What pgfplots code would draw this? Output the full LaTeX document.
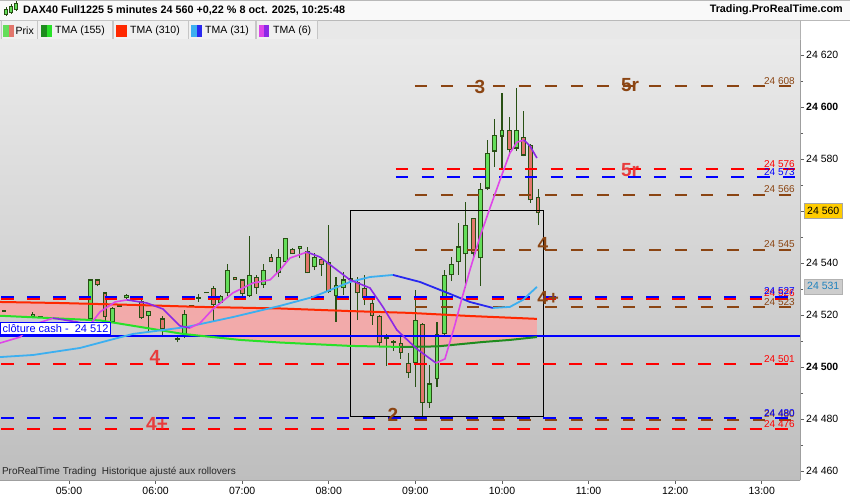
\documentclass[border=0pt]{standalone}
\usepackage{fontspec}
\setmainfont{Liberation Sans}
\usepackage{pgfplots}
\pgfplotsset{compat=1.18}

\definecolor{bgtop}{RGB}{234,234,234}
\definecolor{bgbot}{RGB}{190,190,190}
\definecolor{lvlbrown}{RGB}{139,69,19}
\definecolor{lvlred}{RGB}{255,0,0}
\definecolor{lvlblue}{RGB}{0,0,255}
\definecolor{candleup}{RGB}{100,222,90}
\definecolor{candledn}{RGB}{226,118,108}
\definecolor{candleedge}{RGB}{40,80,20}
\definecolor{tmaA}{RGB}{40,225,40}
\definecolor{tmaB}{RGB}{30,140,30}
\definecolor{tmaR}{RGB}{255,40,0}
\definecolor{tmaLB}{RGB}{60,175,240}
\definecolor{tmaDB}{RGB}{40,40,240}
\definecolor{tmaMag}{RGB}{222,70,232}
\definecolor{tmaPur}{RGB}{140,40,230}
\definecolor{fillpink}{RGB}{242,170,170}
\definecolor{labred}{RGB}{232,60,60}
\definecolor{tabbg}{RGB}{240,240,240}
\definecolor{rowbg}{RGB}{232,232,232}
\definecolor{pricebox}{RGB}{255,204,0}
\definecolor{lastbox}{RGB}{205,205,205}
\definecolor{lasttxt}{RGB}{30,130,190}

\begin{document}
\begin{tikzpicture}[font=\fontsize{10.5}{12}\selectfont]
\fill[white] (0,0) rectangle (850pt,500pt);

% header rows
\fill[white!95!gray] (0,480pt) rectangle (850pt,500pt);
\draw[gray!55] (0,499.6pt) -- (850pt,499.6pt);
\fill[rowbg] (0,460pt) rectangle (800pt,480pt);
\draw[gray!55] (0,480pt) -- (850pt,480pt);
\foreach \a/\b in {1/37,37.5/112.5,113/188,188.5/255.5,256/317}{
  \draw[gray!45, fill=tabbg] (\a pt,460.5pt) rectangle (\b pt,479.5pt);
}
\draw[gray!60] (800pt,460pt) -- (800pt,480pt);
\fill[candleup] (3pt,463pt) rectangle (8.5pt,475pt);
\fill[candledn] (8.5pt,463pt) rectangle (14pt,475pt);
\fill[tmaB] (41pt,463pt) rectangle (46.5pt,475pt);
\fill[tmaA] (46.5pt,463pt) rectangle (52pt,475pt);
\fill[tmaR] (116pt,463pt) rectangle (127pt,475pt);
\fill[tmaLB] (191pt,463pt) rectangle (196.5pt,475pt);
\fill[tmaDB] (196.5pt,463pt) rectangle (202pt,475pt);
\fill[tmaMag] (259pt,463pt) rectangle (264pt,475pt);
\fill[tmaPur] (264pt,463pt) rectangle (269pt,475pt);
\node[anchor=west, inner sep=0pt] at (15.5pt,469.5pt) {Prix};
\node[anchor=west, inner sep=0pt] at (55pt,469.5pt) {TMA (155)};
\node[anchor=west, inner sep=0pt] at (130pt,469.5pt) {TMA (310)};
\node[anchor=west, inner sep=0pt] at (205pt,469.5pt) {TMA (31)};
\node[anchor=west, inner sep=0pt] at (273pt,469.5pt) {TMA (6)};
\draw[candleedge, line width=0.8pt] (6pt,484pt) -- (6pt,493pt);
\fill[candleup, draw=candleedge, line width=0.5pt] (4.5pt,486pt) rectangle (7.5pt,491pt);
\draw[candleedge, line width=0.8pt] (11pt,486pt) -- (11pt,496pt);
\fill[candleup, draw=candleedge, line width=0.5pt] (9.5pt,488pt) rectangle (12.5pt,494pt);
\draw[candleedge, line width=0.8pt] (16pt,489pt) -- (16pt,499pt);
\fill[candleup, draw=candleedge, line width=0.5pt] (14.5pt,491pt) rectangle (17.5pt,497pt);
\node[anchor=west, inner sep=0pt, font=\fontsize{10.8}{12}\selectfont\bfseries] at (23pt,490pt)
  {DAX40 Full1225 5 minutes 24 560 +0,22 \% 8 oct. 2025, 10:25:48};
\node[anchor=east, inner sep=0pt, font=\fontsize{10.8}{12}\selectfont\bfseries] at (843pt,490pt)
  {Trading.ProRealTime.com};

\begin{axis}[
  at={(0pt,20pt)}, anchor=south west,
  width=800pt, height=440pt, scale only axis,
  xmin=252.2, xmax=806.5, ymin=24456.5, ymax=24625.8,
  axis x line*=bottom, axis y line*=right,
  axis line style={draw=gray!75, line width=0.8pt},
  axis background/.style={shade, top color=bgtop, bottom color=bgbot},
  xtick={300,360,420,480,540,600,660,720,780},
  xticklabels={05:00,06:00,07:00,08:00,09:00,10:00,11:00,12:00,13:00},
  ytick={24460,24480,24500,24520,24540,24560,24580,24600,24620},
  yticklabels={24 460,24 480,\textbf{24 500},24 520,24 540,24 560,24 580,\textbf{24 600},24 620},
  scaled y ticks=false, scaled x ticks=false,
  minor ytick={24470,24490,24510,24530,24550,24570,24590,24610},
  tick align=outside, major tick length=4pt, minor tick length=3pt,
  tick style={draw=gray!75!black, line width=0.7pt},
  yticklabel style={anchor=west, inner sep=1pt, xshift=1pt},
  xticklabel style={inner sep=1pt, yshift=-2pt},
  clip=false,
  unbounded coords=jump,
]
% envelope between TMA 310 (forward) and TMA 155 (backward)
\addplot[fill=fillpink, draw=none, forget plot] coordinates {
(252.2,24525.0) (293.8,24524.6) (349.2,24523.8) (390.8,24523.1) (446.2,24522.5)
(494.7,24521.5) (536.2,24520.8) (577.8,24519.6) (624.2,24518.5)
(624.2,24511.5) (605.5,24510.4) (586.8,24509.6) (555.0,24507.9) (529.3,24507.7)
(494.7,24508.1) (446.2,24509.4) (418.5,24510.4) (379.0,24512.7) (349.2,24515.4)
(321.5,24517.9) (286.8,24518.8) (252.2,24519.7)};

% candle wicks (low -> high), time in minutes since midnight
\addplot[candleedge, line width=1.1pt, forget plot] coordinates {
(255,24521.2)(255,24522.0)(255,nan) (275,24518.8)(275,24521.0)(275,nan)
(280,24519.1)(280,24519.6)(280,nan) (315,24518.0)(315,24534.0)(315,nan)
(320,24531.0)(320,24534.0)(320,nan) (325,24517.5)(325,24529.0)(325,nan)
(330,24517.0)(330,24523.0)(330,nan) (335,24523.3)(335,24523.8)(335,nan)
(340,24526.2)(340,24528.0)(340,nan) (350,24518.5)(350,24526.5)(350,nan)
(355,24513.6)(355,24521.5)(355,nan) (365,24512.0)(365,24519.5)(365,nan)
(375,24509.5)(375,24511.4)(375,nan) (380,24511.1)(380,24522.0)(380,nan)
(385,24523.4)(385,24523.9)(385,nan) (390,24525.0)(390,24528.0)(390,nan)
(395,24528.4)(395,24528.9)(395,nan) (400,24517.3)(400,24531.0)(400,nan)
(405,24524.4)(405,24527.5)(405,nan) (410,24527.3)(410,24539.6)(410,nan)
(415,24533.3)(415,24534.8)(415,nan) (420,24527.0)(420,24533.8)(420,nan)
(425,24527.0)(425,24550.4)(425,nan) (430,24528.1)(430,24535.4)(430,nan)
(435,24530.4)(435,24539.6)(435,nan) (440,24540.2)(440,24543.5)(440,nan)
(445,24534.6)(445,24545.4)(445,nan) (450,24540.2)(450,24549.8)(450,nan)
(455,24543.3)(455,24545.6)(455,nan) (460,24541.9)(460,24546.7)(460,nan)
(465,24536.0)(465,24546.2)(465,nan) (470,24537.3)(470,24543.8)(470,nan)
(475,24535.0)(475,24542.3)(475,nan) (480,24528.5)(480,24554.6)(480,nan)
(485,24517.3)(485,24534.6)(485,nan) (490,24527.7)(490,24536.5)(490,nan)
(495,24531.0)(495,24543.5)(495,nan) (500,24518.0)(500,24534.6)(500,nan)
(505,24523.8)(505,24535.4)(505,nan) (510,24516.2)(510,24526.5)(510,nan)
(515,24507.7)(515,24520.0)(515,nan) (520,24500.4)(520,24512.7)(520,nan)
(525,24506.2)(525,24510.4)(525,nan) (530,24503.1)(530,24511.5)(530,nan)
(535,24495.8)(535,24505.4)(535,nan) (540,24492.3)(540,24529.6)(540,nan)
(545,24480.8)(545,24517.0)(545,nan) (550,24484.2)(550,24500.8)(550,nan)
(555,24492.3)(555,24517.3)(555,nan) (560,24512.0)(560,24537.3)(560,nan)
(565,24533.0)(565,24542.3)(565,nan) (570,24535.4)(570,24555.4)(570,nan)
(575,24530.4)(575,24563.5)(575,nan) (580,24542.3)(580,24557.5)(580,nan)
(585,24531.2)(585,24570.8)(585,nan) (590,24568.0)(590,24587.3)(590,nan)
(595,24577.0)(595,24595.4)(595,nan) (600,24576.5)(600,24605.4)(600,nan)
(605,24581.5)(605,24596.2)(605,nan) (610,24583.0)(610,24607.3)(610,nan)
(615,24581.0)(615,24598.5)(615,nan) (620,24563.0)(620,24585.6)(620,nan)
(625,24554.6)(625,24568.5)(625,nan)};

% candle body outlines (min(open,close) -> max(open,close))
\addplot[candleedge, line width=4.8pt, forget plot] coordinates {
(255,24521.25)(255,24521.95)(255,nan) (275,24519.05)(275,24520.55)(275,nan)
(280,24519.05)(280,24519.65)(280,nan) (315,24518.35)(315,24533.65)(315,nan)
(320,24531.35)(320,24533.65)(320,nan) (325,24519.05)(325,24528.65)(325,nan)
(330,24517.15)(330,24522.85)(330,nan) (335,24523.25)(335,24523.85)(335,nan)
(340,24526.35)(340,24527.85)(340,nan) (350,24518.65)(350,24525.55)(350,nan)
(355,24519.45)(355,24521.45)(355,nan) (365,24514.45)(365,24518.65)(365,nan)
(375,24510.55)(375,24511.15)(375,nan) (380,24511.75)(380,24520.55)(380,nan)
(385,24523.35)(385,24523.95)(385,nan) (390,24526.25)(390,24526.85)(390,nan)
(395,24528.35)(395,24528.95)(395,nan) (400,24523.65)(400,24530.55)(400,nan)
(405,24524.45)(405,24527.45)(405,nan) (410,24528.35)(410,24537.45)(410,nan)
(415,24533.35)(415,24534.75)(415,nan) (420,24527.95)(420,24533.65)(420,nan)
(425,24527.15)(425,24535.55)(425,nan) (430,24530.25)(430,24534.75)(430,nan)
(435,24531.35)(435,24537.45)(435,nan) (440,24540.25)(440,24542.45)(440,nan)
(445,24536.05)(445,24542.45)(445,nan) (450,24540.25)(450,24549.75)(450,nan)
(455,24543.35)(455,24545.55)(455,nan) (460,24545.25)(460,24546.65)(460,nan)
(465,24536.05)(465,24544.75)(465,nan) (470,24538.35)(470,24542.45)(470,nan)
(475,24539.05)(475,24541.65)(475,nan) (480,24528.65)(480,24540.55)(480,nan)
(485,24527.15)(485,24531.65)(485,nan) (490,24530.25)(490,24533.65)(490,nan)
(495,24533.35)(495,24534.15)(495,nan) (500,24528.35)(500,24532.85)(500,nan)
(505,24526.35)(505,24530.55)(505,nan) (510,24519.45)(510,24524.75)(510,nan)
(515,24509.05)(515,24519.75)(515,nan) (520,24510.65)(520,24511.35)(520,nan)
(525,24509.25)(525,24509.95)(525,nan) (530,24505.25)(530,24509.35)(530,nan)
(535,24497.55)(535,24501.65)(535,nan) (540,24501.35)(540,24518.15)(540,nan)
(545,24486.05)(545,24516.65)(545,nan) (550,24486.05)(550,24493.65)(550,nan)
(555,24495.25)(555,24512.85)(555,nan) (560,24512.55)(560,24535.55)(560,nan)
(565,24535.25)(565,24539.75)(565,nan) (570,24540.25)(570,24546.35)(570,nan)
(575,24543.35)(575,24554.75)(575,nan) (580,24543.65)(580,24557.45)(580,nan)
(585,24541.75)(585,24568.65)(585,nan) (590,24568.65)(590,24582.45)(590,nan)
(595,24582.85)(595,24589.35)(595,nan) (600,24588.65)(600,24591.35)(600,nan)
(605,24583.35)(605,24591.35)(605,nan) (610,24584.05)(610,24591.35)(610,nan)
(615,24581.35)(615,24588.65)(615,nan) (620,24564.05)(620,24585.55)(620,nan)
(625,24559.05)(625,24565.55)(625,nan)};

% rising candle bodies (open -> close)
\addplot[candleup, line width=2.8pt, forget plot] coordinates {
(275,24519.5)(275,24520.1)(275,nan) (315,24518.8)(315,24533.2)(315,nan)
(330,24517.6)(330,24522.4)(330,nan) (340,24526.8)(340,24527.4)(340,nan)
(355,24519.9)(355,24521.0)(355,nan) (380,24512.2)(380,24520.1)(380,nan)
(405,24524.9)(405,24527.0)(405,nan) (410,24528.8)(410,24537.0)(410,nan)
(425,24527.6)(425,24535.1)(425,nan) (435,24531.8)(435,24537.0)(435,nan)
(445,24536.5)(445,24542.0)(445,nan) (450,24540.7)(450,24549.3)(450,nan)
(460,24545.7)(460,24546.2)(460,nan) (470,24538.8)(470,24542.0)(470,nan)
(485,24527.6)(485,24531.2)(485,nan) (490,24530.7)(490,24533.2)(490,nan)
(540,24501.8)(540,24517.7)(540,nan) (550,24486.5)(550,24493.2)(550,nan)
(555,24495.7)(555,24512.4)(555,nan) (560,24513.0)(560,24535.1)(560,nan)
(565,24535.7)(565,24539.3)(565,nan) (570,24540.7)(570,24545.9)(570,nan)
(575,24543.8)(575,24554.3)(575,nan) (585,24542.2)(585,24568.2)(585,nan)
(590,24569.1)(590,24582.0)(590,nan) (595,24583.3)(595,24588.9)(595,nan)
(600,24589.1)(600,24590.9)(600,nan) (610,24584.5)(610,24590.9)(610,nan)};

% falling candle bodies (close -> open)
\addplot[candledn, line width=2.8pt, forget plot] coordinates {
(320,24531.8)(320,24533.2)(320,nan) (325,24519.5)(325,24528.2)(325,nan)
(350,24519.1)(350,24525.1)(350,nan) (365,24514.9)(365,24518.2)(365,nan)
(400,24524.1)(400,24530.1)(400,nan) (415,24533.8)(415,24534.3)(415,nan)
(420,24528.4)(420,24533.2)(420,nan) (430,24530.7)(430,24534.3)(430,nan)
(440,24540.7)(440,24542.0)(440,nan) (455,24543.8)(455,24545.1)(455,nan)
(465,24536.5)(465,24544.3)(465,nan) (475,24539.5)(475,24541.2)(475,nan)
(480,24529.1)(480,24540.1)(480,nan) (500,24528.8)(500,24532.4)(500,nan)
(505,24526.8)(505,24530.1)(505,nan) (510,24519.9)(510,24524.3)(510,nan)
(515,24509.5)(515,24519.3)(515,nan) (530,24505.7)(530,24508.9)(530,nan)
(535,24498.0)(535,24501.2)(535,nan) (545,24486.5)(545,24516.2)(545,nan)
(580,24544.1)(580,24557.0)(580,nan) (605,24583.8)(605,24590.9)(605,nan)
(615,24581.8)(615,24588.2)(615,nan) (620,24564.5)(620,24585.1)(620,nan)
(625,24559.5)(625,24565.1)(625,nan)};

% rectangle
\addplot[black, line width=0.8pt, forget plot] coordinates {(494.7,24560.4) (628.4,24560.4) (628.4,24480.8) (494.7,24480.8) (494.7,24560.4)};

% level lines
\pgfplotsset{lvl/.style={line width=2pt, dash pattern=on 12.5pt off 13.3pt, forget plot}}
\addplot[lvlred, lvl] coordinates {(253.2,24526.2) (806.5,24526.2)};
\addplot[lvlblue, lvl] coordinates {(253.2,24527) (806.5,24527)};
\addplot[lvlred, lvl] coordinates {(253.2,24501) (806.5,24501)};
\addplot[lvlred, lvl] coordinates {(253.2,24476) (806.5,24476)};
\addplot[lvlblue, lvl] coordinates {(253.2,24480.3) (806.5,24480.3)};
\addplot[lvlred, lvl] coordinates {(526.5,24576) (806.5,24576)};
\addplot[lvlblue, lvl] coordinates {(526.5,24573) (806.5,24573)};
\pgfplotsset{blvl/.style={lvlbrown, line width=1.8pt, dash pattern=on 12.3pt off 13.7pt, forget plot}}
\addplot[blvl] coordinates {(539.7,24608) (806.5,24608)};
\addplot[blvl] coordinates {(539.7,24566.2) (806.5,24566.2)};
\addplot[blvl] coordinates {(539.7,24545) (806.5,24545)};
\addplot[blvl] coordinates {(539.7,24523) (806.5,24523)};
\addplot[blvl] coordinates {(539.7,24479.7) (806.5,24479.7)};
\addplot[lvlblue, line width=2pt, forget plot] coordinates {(252.2,24512) (806.5,24512)};

% TMA 310
\addplot[tmaR, line width=2pt] coordinates {
(252.2,24525.0) (293.8,24524.6) (349.2,24523.8) (390.8,24523.1) (446.2,24522.5)
(494.7,24521.5) (536.2,24520.8) (577.8,24519.6) (624.2,24518.5)};
% TMA 155
\addplot[tmaA, line width=2pt] coordinates {
(252.2,24519.7) (286.8,24518.8) (321.5,24517.9) (349.2,24515.4) (379.0,24512.7)
(418.5,24510.4) (446.2,24509.4) (494.7,24508.1) (529.3,24507.7)};
\addplot[tmaB, line width=2pt] coordinates {
(529.3,24507.7) (555.0,24507.9) (586.8,24509.6) (605.5,24510.4) (624.2,24511.5)};
% TMA 31
\addplot[tmaLB, line width=1.8pt] coordinates {
(252.2,24503.8) (275.1,24504.6) (307.6,24507.3) (344.3,24512.7) (381.8,24515.4)
(413.6,24519.2) (446.2,24523.5) (469.0,24526.9) (494.7,24532.7) (508.5,24534.6) (524.5,24535.4)};
\addplot[tmaDB, line width=1.8pt] coordinates {
(524.5,24535.4) (543.2,24532.7) (559.1,24529.2) (577.8,24525.0) (593.7,24522.7)};
\addplot[tmaLB, line width=1.8pt] coordinates {
(593.7,24522.7) (605.5,24523.1) (614.5,24525.8) (624.2,24530.8)};
% TMA 6
\addplot[tmaMag, line width=1.6pt] coordinates {
(252.2,24509.2) (266.1,24511.5) (275.1,24516.2) (288.9,24518.8)};
\addplot[tmaPur, line width=1.6pt] coordinates {
(288.9,24518.8) (305.5,24517.3) (314.6,24516.2)};
\addplot[tmaMag, line width=1.6pt] coordinates {
(314.6,24516.2) (321.5,24521.2) (331.9,24525.0) (340.2,24525.8)};
\addplot[tmaPur, line width=1.6pt] coordinates {
(340.2,24525.8) (354.0,24524.6) (365.1,24522.3) (376.9,24515.8) (383.8,24515.0)};
\addplot[tmaMag, line width=1.6pt] coordinates {
(383.8,24515.0) (390.8,24516.9) (399.8,24522.3) (413.6,24528.5) (427.5,24532.3)
(439.3,24533.5) (446.2,24537.3) (453.1,24541.9) (464.9,24544.2)};
\addplot[tmaPur, line width=1.6pt] coordinates {
(464.9,24544.2) (473.9,24542.3) (485.7,24537.3) (494.7,24533.5) (508.5,24530.4)
(517.5,24523.1) (527.2,24514.2) (541.1,24506.9) (554.3,24501.5)};
\addplot[tmaMag, line width=1.6pt] coordinates {
(554.3,24501.5) (560.5,24503.1) (567.4,24516.2) (572.3,24526.5) (577.8,24537.3)
(584.7,24550.0) (591.7,24561.2) (598.6,24571.9) (605.5,24582.3) (610.4,24586.5) (615.2,24587.3)};
\addplot[tmaPur, line width=1.6pt] coordinates {
(615.2,24587.3) (619.4,24585.0) (624.2,24580.4)};

% big labels
\tikzset{big/.style={font=\fontsize{19}{19}\selectfont\bfseries, inner sep=0pt}}
\node[big, text=lvlbrown] at (axis cs:584.7,24607.7) {3};
\node[big, text=lvlbrown] at (axis cs:688.7,24608.5) {5r};
\node[big, text=labred] at (axis cs:688.7,24575.8) {5r};
\node[big, text=lvlbrown] at (axis cs:628.4,24547.3) {4};
\node[big, text=lvlbrown] at (axis cs:632.0,24526.5) {4+};
\node[big, text=lvlbrown] at (axis cs:524.5,24481.5) {2};
\node[big, text=labred] at (axis cs:359.6,24503.8) {4};
\node[big, text=labred] at (axis cs:361.0,24478.1) {4+};

% right-side level values
\tikzset{lv/.style={font=\fontsize{10}{11}\selectfont, anchor=south east, inner sep=1pt}}
\node[lv, text=lvlbrown] at (axis cs:803.7,24608.3) {24 608};
\node[lv, text=lvlred] at (axis cs:803.7,24576.3) {24 576};
\node[lv, text=lvlblue] at (axis cs:803.7,24573.3) {24 573};
\node[lv, text=lvlbrown] at (axis cs:803.7,24566.5) {24 566};
\node[lv, text=lvlbrown] at (axis cs:803.7,24545.3) {24 545};
\node[lv, text=lvlbrown] at (axis cs:803.7,24523.3) {24 523};
\node[lv, text=lvlred] at (axis cs:803.7,24526.5) {24 526};
\node[lv, text=lvlblue] at (axis cs:803.7,24527.3) {24 527};
\node[lv, text=lvlred] at (axis cs:803.7,24501.3) {24 501};
\node[lv, text=lvlred] at (axis cs:803.7,24476.3) {24 476};
\node[lv, text=lvlbrown] at (axis cs:803.7,24480.0) {24 480};
\node[lv, text=lvlblue] at (axis cs:803.7,24480.6) {24 480};

% cloture cash label
\node[anchor=south west, draw=lvlblue, fill=white, line width=0.8pt, inner xsep=2pt, inner ysep=1.8pt,
  text=lvlblue, font=\fontsize{11}{12}\selectfont] at (axis cs:252.4,24512.4) {clôture cash -\ \ 24 512};

% price boxes on the axis
\node[anchor=west, fill=pricebox, draw=gray!70, inner xsep=3pt, minimum height=15pt, inner ysep=0pt]
  at (axis cs:806.5,24560) [xshift=4pt] {24 560};
\node[anchor=west, fill=lastbox, draw=gray!60, inner xsep=3pt, minimum height=15pt, inner ysep=0pt, text=lasttxt]
  at (axis cs:806.5,24531) [xshift=4pt] {24 531};

% footer note
\node[anchor=south west, inner sep=0pt, font=\fontsize{10}{11}\selectfont, text=black!85]
  at (axis cs:253.5,24457.6) {ProRealTime Trading\ \ Historique ajusté aux rollovers};
\end{axis}
\pgfresetboundingbox
\useasboundingbox (0,0) rectangle (850pt,500pt);
\end{tikzpicture}
\end{document}
